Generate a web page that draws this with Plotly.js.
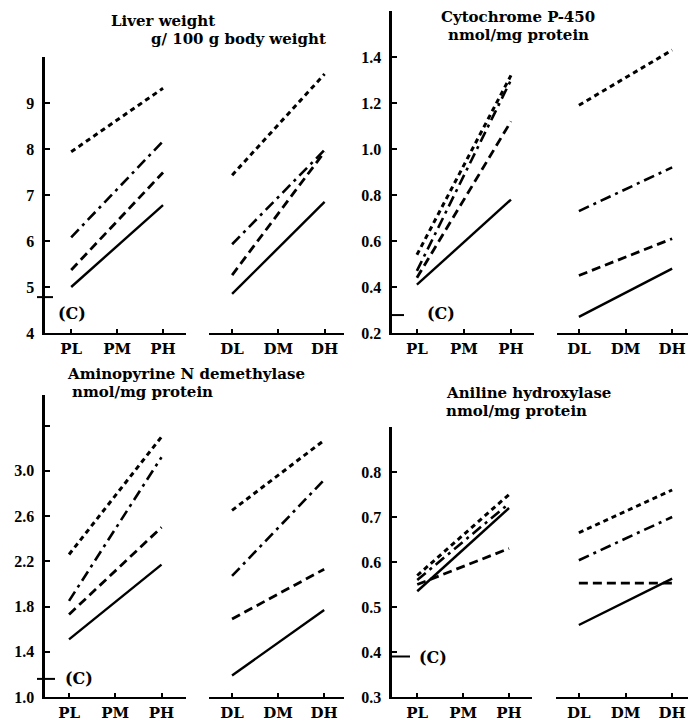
<!DOCTYPE html>
<html>
<head>
<meta charset="utf-8">
<script src="https://cdn.plot.ly/plotly-3.0.1.min.js"></script>
<style>
html,body{margin:0;padding:0;background:#fff;}
#chart{width:688px;height:725px;}
</style>
</head>
<body>
<div id="chart"></div>
<script>
// ---------- DATA ----------
var catsP = ["PL", "PM", "PH"];
var catsD = ["DL", "DM", "DH"];
var endsP = ["PL", "PH"];
var endsD = ["DL", "DH"];

// Liver weight (g/100 g body weight)
var liverP_solid   = [5.00, 6.78];
var liverP_dash    = [5.37, 7.49];
var liverP_dashdot = [6.08, 8.17];
var liverP_dot     = [7.94, 9.32];
var liverD_solid   = [4.85, 6.85];
var liverD_dash    = [5.26, 7.94];
var liverD_dashdot = [5.93, 7.98];
var liverD_dot     = [7.43, 9.63];
var liverControl   = 4.78;
var liverTicks     = [4, 5, 6, 7, 8, 9];
var liverTickText  = ["4", "5", "6", "7", "8", "9"];

// Cytochrome P-450 (nmol/mg protein)
var cytoP_solid   = [0.41, 0.78];
var cytoP_dash    = [0.44, 1.12];
var cytoP_dashdot = [0.47, 1.30];
var cytoP_dot     = [0.54, 1.32];
var cytoD_solid   = [0.27, 0.48];
var cytoD_dash    = [0.45, 0.61];
var cytoD_dashdot = [0.73, 0.92];
var cytoD_dot     = [1.19, 1.43];
var cytoControl   = 0.278;
var cytoTicks     = [0.2, 0.4, 0.6, 0.8, 1.0, 1.2, 1.4];
var cytoTickText  = ["0.2", "0.4", "0.6", "0.8", "1.0", "1.2", "1.4"];

// Aminopyrine N demethylase (nmol/mg protein)
var aminoP_solid   = [1.51, 2.17];
var aminoP_dash    = [1.73, 2.50];
var aminoP_dashdot = [1.85, 3.12];
var aminoP_dot     = [2.26, 3.30];
var aminoD_solid   = [1.19, 1.77];
var aminoD_dash    = [1.69, 2.13];
var aminoD_dashdot = [2.07, 2.92];
var aminoD_dot     = [2.65, 3.27];
var aminoControl   = 1.16;
var aminoTicks     = [1.0, 1.4, 1.8, 2.2, 2.6, 3.0, 3.4];
var aminoTickText  = ["1.0", "1.4", "1.8", "2.2", "2.6", "3.0", ""];

// Aniline hydroxylase (nmol/mg protein)
var anilP_solid   = [0.535, 0.72];
var anilP_dash    = [0.55, 0.63];
var anilP_dashdot = [0.56, 0.73];
var anilP_dot     = [0.57, 0.75];
var anilD_solid   = [0.46, 0.563];
var anilD_dash    = [0.553, 0.553];
var anilD_dashdot = [0.604, 0.70];
var anilD_dot     = [0.665, 0.76];
var anilControl   = 0.39;
var anilTicks     = [0.3, 0.4, 0.5, 0.6, 0.7, 0.8];
var anilTickText  = ["0.3", "0.4", "0.5", "0.6", "0.7", "0.8"];

var titles1 = ["Liver weight", "g/ 100 g body weight"];
var titles2 = ["Cytochrome P-450", "nmol/mg protein"];
var titles3 = ["Aminopyrine N demethylase", "nmol/mg protein"];
var titles4 = ["Aniline hydroxylase", "nmol/mg protein"];
var controlLabel = "(C)";

// ---------- LAYOUT HELPERS ----------
var W = 688, H = 725;
function fx(px){ return px / W; }
function fy(py){ return 1 - py / H; }

var styles = [
  {dash: "solid", width: 2.4},
  {dash: "9px,5px", width: 2.8},
  {dash: "11px,5px,3px,5px", width: 2.6},
  {dash: "5px,4px", width: 3}
];

var panels = [
  {P: [liverP_solid, liverP_dash, liverP_dashdot, liverP_dot],
   D: [liverD_solid, liverD_dash, liverD_dashdot, liverD_dot],
   control: liverControl, ticks: liverTicks, tickText: liverTickText, range: [4, 10],
   xl: [45, 186], xr: [209, 344], yb: 333, yt: 57,
   rangeL: [-0.57, 2.5], rangeR: [-0.5, 2.42],
   titles: titles1, tpos: [[163, 21], [238, 39]],
   cTick: [37, 53], cText: [72, 313]},
  {P: [cytoP_solid, cytoP_dash, cytoP_dashdot, cytoP_dot],
   D: [cytoD_solid, cytoD_dash, cytoD_dashdot, cytoD_dot],
   control: cytoControl, ticks: cytoTicks, tickText: cytoTickText, range: [0.2, 1.6],
   xl: [392, 534], xr: [557, 688], yb: 333, yt: 11,
   rangeL: [-0.53, 2.49], rangeR: [-0.47, 2.34],
   titles: titles2, tpos: [[518, 17], [518, 35]],
   cTick: [390, 404], cText: [441, 313]},
  {P: [aminoP_solid, aminoP_dash, aminoP_dashdot, aminoP_dot],
   D: [aminoD_solid, aminoD_dash, aminoD_dashdot, aminoD_dot],
   control: aminoControl, ticks: aminoTicks, tickText: aminoTickText, range: [1.0, 3.67],
   xl: [45, 186], xr: [209, 344], yb: 697, yt: 395,
   rangeL: [-0.52, 2.53], rangeR: [-0.5, 2.43],
   titles: titles3, tpos: [[186, 374], [142, 392]],
   cTick: [37, 55], cText: [79, 678]},
  {P: [anilP_solid, anilP_dash, anilP_dashdot, anilP_dot],
   D: [anilD_solid, anilD_dash, anilD_dashdot, anilD_dot],
   control: anilControl, ticks: anilTicks, tickText: anilTickText, range: [0.3, 0.9],
   xl: [392, 532], xr: [556, 688], yb: 697, yt: 427,
   rangeL: [-0.55, 2.5], rangeR: [-0.49, 2.34],
   titles: titles4, tpos: [[528, 393], [516, 411]],
   cTick: [390, 410], cText: [433, 657]}
];

var yFont = {family: "Liberation Serif, serif", size: 16, color: "#000", weight: "bold"};
var xFont = {family: "DejaVu Serif, serif", size: 15, color: "#000", weight: "bold"};
var cFont = {family: "DejaVu Serif, serif", size: 16, color: "#000", weight: "bold"};
var tFont = {family: "DejaVu Serif, serif", size: 15, color: "#000", weight: "bold"};

var traces = [];
var layout = {
  width: W, height: H,
  margin: {l: 0, r: 0, t: 0, b: 0},
  paper_bgcolor: "#fff", plot_bgcolor: "#fff",
  showlegend: false,
  annotations: [], shapes: []
};

panels.forEach(function(p, i){
  var kL = 2 * i + 1, kR = 2 * i + 2;
  var xL = "x" + kL, yL = "y" + kL, xR = "x" + kR, yR = "y" + kR;
  var xLn = "xaxis" + kL, yLn = "yaxis" + kL, xRn = "xaxis" + kR, yRn = "yaxis" + kR;
  var ydom = [fy(p.yb), fy(p.yt)];

  p.P.forEach(function(vals, s){
    traces.push({type: "scatter", mode: "lines", x: endsP, y: vals, xaxis: xL, yaxis: yL,
      line: {color: "#000", width: styles[s].width, dash: styles[s].dash}, hoverinfo: "skip"});
  });
  p.D.forEach(function(vals, s){
    traces.push({type: "scatter", mode: "lines", x: endsD, y: vals, xaxis: xR, yaxis: yR,
      line: {color: "#000", width: styles[s].width, dash: styles[s].dash}, hoverinfo: "skip"});
  });

  var xBase = {
    type: "category", showgrid: false, zeroline: false, showline: true,
    linecolor: "#000", linewidth: 2.2, ticks: "inside", ticklen: 4, tickwidth: 2, tickcolor: "#000",
    tickfont: xFont, ticklabelstandoff: 1, fixedrange: true
  };
  layout[xLn] = Object.assign({}, xBase, {domain: [fx(p.xl[0]), fx(p.xl[1])], anchor: yL,
    categoryorder: "array", categoryarray: catsP, range: p.rangeL});
  layout[xRn] = Object.assign({}, xBase, {domain: [fx(p.xr[0]), fx(p.xr[1])], anchor: yR,
    categoryorder: "array", categoryarray: catsD, range: p.rangeR});

  layout[yLn] = {
    domain: ydom, anchor: xL, range: p.range, showgrid: false, zeroline: false,
    showline: true, linecolor: "#000", linewidth: 2.6,
    ticks: "inside", ticklen: 5, tickwidth: 2, tickcolor: "#000",
    tickmode: "array", tickvals: p.ticks, ticktext: p.tickText,
    tickfont: yFont, ticklabelstandoff: 5, fixedrange: true
  };
  layout[yRn] = {
    domain: ydom, anchor: xR, range: p.range, visible: false, fixedrange: true
  };

  // control marker
  layout.shapes.push({type: "line", xref: "paper", yref: yL,
    x0: fx(p.cTick[0]), x1: fx(p.cTick[1]), y0: p.control, y1: p.control,
    line: {color: "#000", width: 2}});
  layout.annotations.push({xref: "paper", yref: "paper", x: fx(p.cText[0]), y: fy(p.cText[1]),
    xanchor: "center", yanchor: "middle", showarrow: false, text: controlLabel, font: cFont});

  // titles
  p.titles.forEach(function(t, j){
    layout.annotations.push({xref: "paper", yref: "paper", x: fx(p.tpos[j][0]), y: fy(p.tpos[j][1]),
      xanchor: "center", yanchor: "middle", showarrow: false, text: t, font: tFont});
  });
});

Plotly.newPlot("chart", traces, layout, {staticPlot: true, displayModeBar: false});
</script>
</body>
</html>
